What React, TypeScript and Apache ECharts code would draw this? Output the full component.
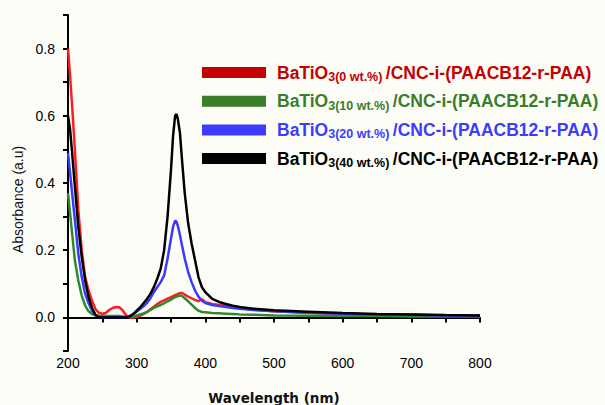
import React, { useEffect, useRef } from "react";
import * as echarts from "echarts";

// UV-Vis absorbance spectra, wavelength in nm
const wavelengths = [
  200, 203, 206, 210, 215, 220, 225, 230, 235, 240, 245, 250, 255, 260, 265, 270, 275, 280, 285, 290,
  295, 300, 305, 310, 315, 320, 325, 330, 335, 340, 345, 350, 353, 356, 358, 360, 363, 366, 370, 375,
  380, 385, 390, 395, 400, 410, 420, 430, 440, 450, 470, 500, 550, 600, 650, 700, 750, 800,
];

const absorbance0 = [
  0.8, 0.72, 0.63, 0.5, 0.32, 0.2, 0.12, 0.08, 0.05, 0.025, 0.013, 0.011, 0.013, 0.022, 0.028, 0.031, 0.03, 0.02, 0.005, 0.0,
  0.0, 0.002, 0.005, 0.01, 0.016, 0.024, 0.032, 0.04, 0.046, 0.051, 0.056, 0.06, 0.063, 0.066, 0.068, 0.07, 0.072, 0.073, 0.068, 0.062,
  0.057, 0.052, 0.048, 0.054, 0.045, 0.04, 0.037, 0.034, 0.031, 0.028, 0.023, 0.018, 0.014, 0.011, 0.009, 0.008, 0.006, 0.005,
];

const absorbance10 = [
  0.37, 0.31, 0.25, 0.17, 0.11, 0.065, 0.035, 0.018, 0.01, 0.006, 0.004, 0.004, 0.004, 0.004, 0.004, 0.004, 0.004, 0.003, 0.002, 0.002,
  0.004, 0.006, 0.009, 0.012, 0.016, 0.022, 0.028, 0.033, 0.037, 0.042, 0.048, 0.053, 0.057, 0.06, 0.062, 0.063, 0.065, 0.064, 0.057, 0.048,
  0.038, 0.028, 0.02, 0.016, 0.015, 0.013, 0.012, 0.011, 0.01, 0.009, 0.008, 0.006, 0.005, 0.004, 0.004, 0.003, 0.003, 0.003,
];

const absorbance20 = [
  0.49, 0.43, 0.37, 0.29, 0.19, 0.12, 0.07, 0.042, 0.02, 0.007, 0.001, 0.0, 0.0, 0.0, 0.0, 0.0, 0.0, 0.0, 0.0, 0.004,
  0.01, 0.017, 0.025, 0.033, 0.043, 0.057, 0.075, 0.09, 0.105, 0.125, 0.175, 0.235, 0.27, 0.288, 0.285, 0.272, 0.245, 0.215, 0.175, 0.135,
  0.105, 0.08, 0.062, 0.05, 0.043, 0.037, 0.034, 0.031, 0.028, 0.026, 0.022, 0.018, 0.014, 0.011, 0.009, 0.008, 0.006, 0.005,
];

const absorbance40 = [
  0.6, 0.56, 0.49, 0.39, 0.27, 0.18, 0.11, 0.06, 0.028, 0.008, 0.0, 0.0, 0.0, 0.0, 0.0, 0.0, 0.0, 0.0, 0.0, 0.003,
  0.01, 0.02, 0.03, 0.042, 0.055, 0.07, 0.09, 0.115, 0.145, 0.2, 0.3, 0.44, 0.54, 0.6, 0.605, 0.59, 0.55, 0.47, 0.37, 0.28,
  0.22, 0.17, 0.12, 0.09, 0.075, 0.055, 0.046, 0.04, 0.035, 0.031, 0.026, 0.021, 0.017, 0.013, 0.01, 0.009, 0.007, 0.006,
];

const loadings = ["0 wt.%", "10 wt.%", "20 wt.%", "40 wt.%"];
const lineColors = ["#ff1c1c", "#2e8a2e", "#3a3aff", "#000000"];
const keyColors = ["#c40000", "#3a7d2a", "#3c3cff", "#000000"];
const seriesValues = [absorbance0, absorbance10, absorbance20, absorbance40];
const matrixName = "/CNC-i-(PAACB12-r-PAA)";

const xTicks = { min: 200, max: 800, step: 50 };
const yTicks = { min: -0.1, max: 0.9, step: 0.1 };

const seriesName = (i: number) => `BaTiO3(${loadings[i]}) ${matrixName}`;

const richStyles: Record<string, any> = {};
keyColors.forEach((c, i) => {
  richStyles["m" + i] = {
    color: c,
    fontFamily: "Liberation Sans, Arial, sans-serif",
    fontWeight: "bold",
    fontSize: 17.5,
    lineHeight: 22,
  };
  richStyles["s" + i] = {
    color: c,
    fontFamily: "Liberation Sans, Arial, sans-serif",
    fontWeight: "bold",
    fontSize: 12.5,
    lineHeight: 13,
    verticalAlign: "bottom",
  };
});

export default function App() {
  const ref = useRef<HTMLDivElement>(null);

  useEffect(() => {
    if (!ref.current) return;
    const chart = echarts.init(ref.current, null, { renderer: "svg" });

    const series = seriesValues.map((vals, i) => ({
      name: seriesName(i),
      type: "line",
      data: wavelengths.map((w, k) => [w, vals[k]]),
      showSymbol: false,
      symbol: "none",
      color: lineColors[i],
      lineStyle: { color: lineColors[i], width: 2.5 },
      z: 2 + i,
    }));

    chart.setOption({
      animation: false,
      backgroundColor: "#fdfdf8",
      grid: { left: 68, right: 125, top: 15, bottom: 54, outerBoundsMode: "none" },
      legend: {
        orient: "vertical",
        left: 202,
        top: 63.5,
        padding: 0,
        itemGap: 8.7,
        itemWidth: 64,
        itemHeight: 11,
        icon: "rect",
        selectedMode: false,
        data: loadings.map((_, i) => ({
          name: seriesName(i),
          itemStyle: { color: keyColors[i], borderWidth: 0 },
          textStyle: { color: keyColors[i] },
        })),
        formatter: (name: string) => {
          const i = loadings.findIndex((_, k) => seriesName(k) === name);
          return `{m${i}|BaTiO}{s${i}|3(${loadings[i]}) }{m${i}|${matrixName}}`;
        },
        textStyle: { padding: [0, 0, 0, 6], rich: richStyles },
      },
      xAxis: {
        type: "value",
        min: xTicks.min,
        max: xTicks.max,
        interval: xTicks.step,
        name: "Wavelength (nm)",
        nameLocation: "middle",
        nameGap: 40,
        nameMoveOverlap: false,
        nameTextStyle: {
          fontFamily: "DejaVu Sans, sans-serif",
          fontWeight: "bold",
          fontSize: 13.5,
          color: "#111",
        },
        axisLine: { show: true, lineStyle: { color: "#000", width: 2 } },
        axisTick: { show: true, length: 5, lineStyle: { color: "#000", width: 2 } },
        axisLabel: {
          margin: 5,
          fontFamily: "Liberation Sans, Arial, sans-serif",
          fontSize: 14,
          color: "#000",
          formatter: (v: number) => (v % 100 === 0 ? String(v) : ""),
        },
        splitLine: { show: false },
      },
      yAxis: {
        type: "value",
        min: yTicks.min,
        max: yTicks.max,
        interval: yTicks.step,
        name: "Absorbance (a.u)",
        nameLocation: "middle",
        nameGap: 43,
        nameMoveOverlap: false,
        nameTextStyle: {
          fontFamily: "Liberation Sans, Arial, sans-serif",
          fontSize: 14,
          color: "#111",
          padding: [0, 33, 0, 0],
        },
        axisLine: { show: true, lineStyle: { color: "#000", width: 2 } },
        axisTick: { show: true, length: 5, lineStyle: { color: "#000", width: 2 } },
        axisLabel: {
          margin: 13,
          fontFamily: "Liberation Sans, Arial, sans-serif",
          fontSize: 14,
          color: "#000",
          formatter: (v: number) => {
            const k = Math.round(v * 10);
            return k >= 0 && k <= 8 && k % 2 === 0 ? (k / 10).toFixed(1) : "";
          },
        },
        splitLine: { show: false },
      },
      series,
    });

    return () => chart.dispose();
  }, []);

  return (
    <div
      ref={ref}
      style={{ position: "fixed", left: 0, top: 0, width: 605, height: 405 }}
    />
  );
}
